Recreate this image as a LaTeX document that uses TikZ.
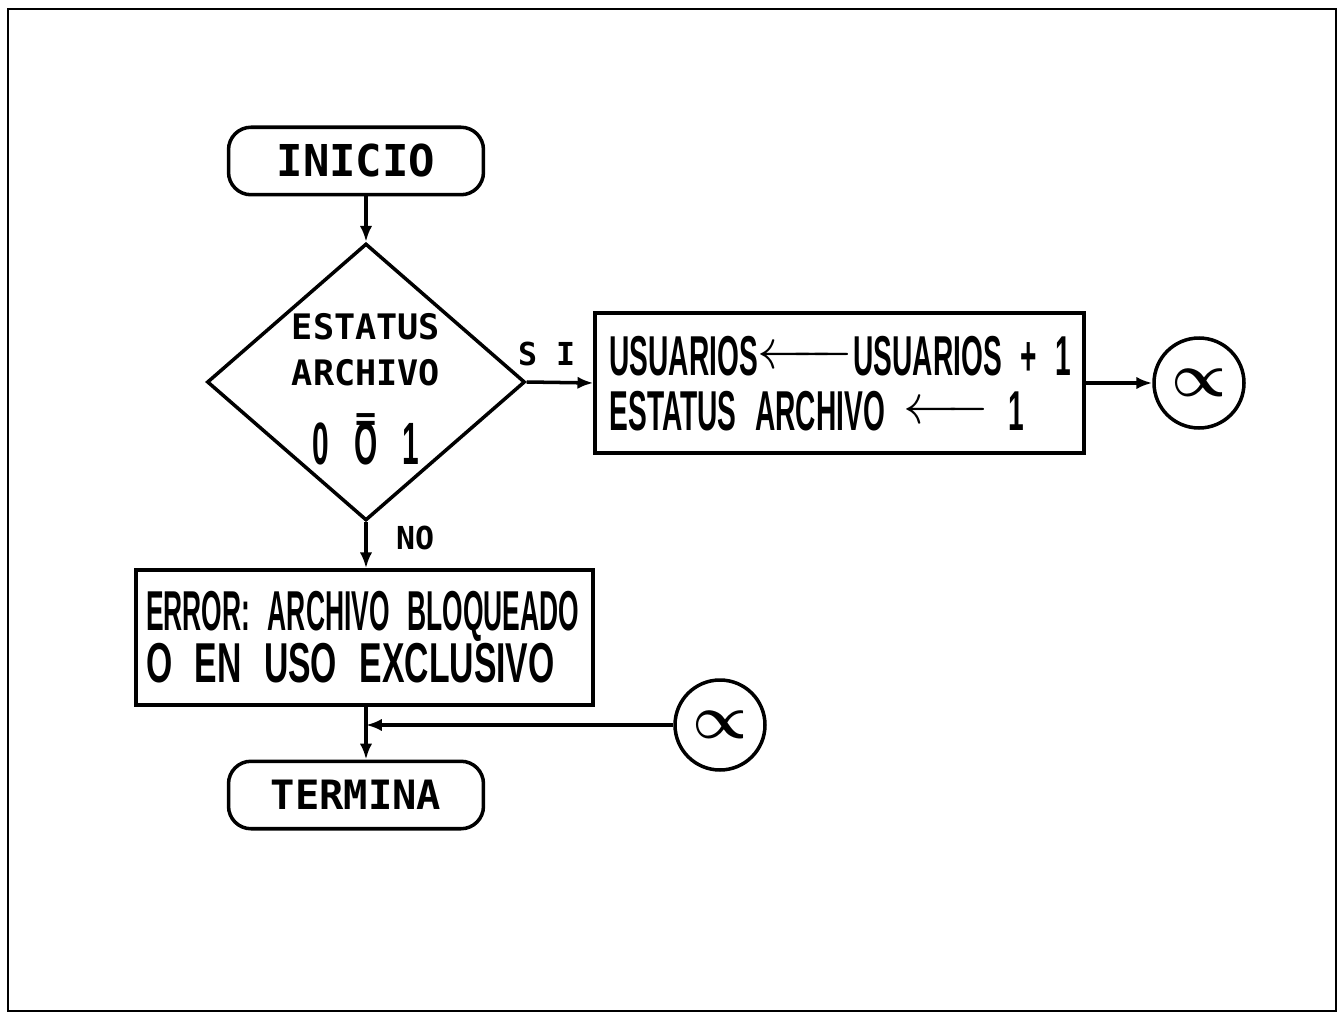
\documentclass[tikz,border=0pt]{standalone}
\usepackage{fix-cm}
\usepackage{fontspec}
\usepackage{amsmath}
\usetikzlibrary{shapes.geometric,arrows.meta}

\newfontfamily\pixelmono{DejaVu Sans Mono}
\newfontfamily\pixelnarrow[FakeStretch=0.5]{Liberation Sans}
\DeclareRobustCommand\narrowtext[2]{\pixelnarrow\bfseries\fontsize{#1}{#2}\selectfont}
\newcommand\assign[1]{\raisebox{0.12em}{$\xleftarrow{\hspace{#1}}$}}
\newcommand\barO{\ooalign{O\cr\hidewidth\raisebox{19pt}[0pt][0pt]{\pixelmono\bfseries\fontsize{20}{20}\selectfont =}\hidewidth\cr}}

\tikzset{
  terminal/.style={draw, line width=2pt, rounded corners=0.45cm, minimum width=5.1cm, minimum height=1.35cm},
  decision/.style={draw, diamond, line width=2pt, minimum width=6.36cm, minimum height=5.54cm, inner sep=0pt},
  process/.style={draw, line width=2pt, align=left},
  connector/.style={draw, circle, line width=2pt, minimum size=1.8cm, inner sep=0pt},
  flow/.style={line width=2pt, -{Latex[length=9pt,width=7pt]}},
  tag/.style={font=\pixelmono\bfseries\fontsize{18}{18}\selectfont},
}

\begin{document}
\frenchspacing
\begin{tikzpicture}[x=0.02cm, y=-0.02cm]
  \useasboundingbox (0,0) rectangle (1338,1013);

  % Page frame
  \draw[line width=1.6pt] (8,9) rectangle (1336,1011);

  % Start
  \node[terminal, font=\pixelmono\bfseries\fontsize{25}{25}\selectfont] (inicio) at (356,161) {INICIO};

  % Decision on the file status
  \node[decision] (estatus) at (366,382) {};
  \node[align=center, inner sep=0pt, anchor=north, font=\pixelmono\bfseries\fontsize{20}{26}\selectfont] (estatustext) at (366,313)
    {ESTATUS\\ARCHIVO\\[19pt]{\narrowtext{34}{34}0\hspace{0.5cm}\barO\hspace{0.5cm}1}};
  \draw[flow] (inicio.south -| estatus.north) -- (estatus.north);

  % SI branch
  \node[process, text width=9.2cm, inner xsep=0.29cm, minimum height=2.8cm,
        font=\narrowtext{32}{31}] (usuarios) at (839.5,383)
    {\mbox{USUARIOS\assign{1.3cm}USUARIOS + 1}\\\mbox{ESTATUS ARCHIVO \assign{1.1cm} 1}};
  \draw[flow] (estatus.east) -- node[tag, pos=0.3, above=5pt] (si) {S I} (usuarios.west);
  \node[connector] (alfa1) at (1199,383) {\scalebox{3.5}{\boldmath$\propto$}};
  \draw[flow] (usuarios.east) -- (alfa1.west);

  % NO branch
  \node[process, text width=8.74cm, inner xsep=0.2cm, minimum height=2.7cm,
        font=\narrowtext{32}{27}] (error) at (364.5,637.5)
    {\scalebox{0.94}[1]{ERROR: ARCHIVO BLOQUEADO}\\\scalebox{1.2}[1]{O EN USO EXCLUSIVO}};
  \draw[flow] (estatus.south) -- node[tag, pos=0.35, right=0.45cm] (no) {NO} (estatus.south |- error.north);

  % End
  \node[terminal, font=\pixelmono\bfseries\fontsize{23}{23}\selectfont] (termina) at (356,795) {TERMINA};
  \draw[flow] (error.south -| estatus.south) -- (termina.north -| estatus.south);
  \node[connector] (alfa2) at (720,725) {\scalebox{3.5}{\boldmath$\propto$}};
  \draw[flow] (alfa2.west) -- (alfa2.west -| estatus.south);
\end{tikzpicture}
\end{document}
